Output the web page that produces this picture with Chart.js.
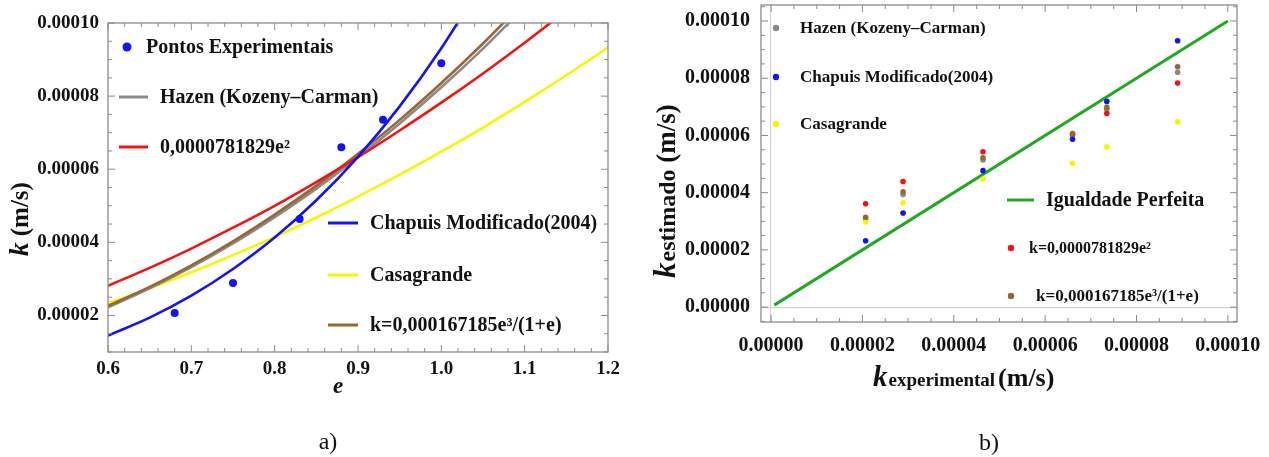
<!DOCTYPE html>
<html>
<head>
<meta charset="utf-8">
<script src="https://cdn.jsdelivr.net/npm/chart.js@4.4.1/dist/chart.umd.min.js"></script>
<style>
  html, body { margin: 0; padding: 0; background: #fff; }
  #wrap { position: relative; width: 1269px; height: 457px; }
  #boxA { position: absolute; left: 0; top: 0; width: 635px; height: 457px; }
  #boxB { position: absolute; left: 635px; top: 0; width: 634px; height: 457px; }
</style>
</head>
<body>
<div id="wrap">
  <div id="boxA"><canvas id="chartA" width="635" height="457"></canvas></div>
  <div id="boxB"><canvas id="chartB" width="634" height="457"></canvas></div>
</div>
<script>
// ---- data: panel a) k versus e ----
const eGrid = [0.60, 0.65, 0.70, 0.75, 0.80, 0.85, 0.90, 0.95, 1.00, 1.05, 1.10, 1.15, 1.20];
const kChapuis    = [1.45e-5, 1.94e-5, 2.54e-5, 3.27e-5, 4.13e-5, 5.15e-5, 6.34e-5, 7.72e-5, 9.31e-5, 1.112e-4];
const kQuadratic  = [2.81e-5, 3.30e-5, 3.83e-5, 4.40e-5, 5.00e-5, 5.65e-5, 6.33e-5, 7.06e-5, 7.82e-5, 8.62e-5, 9.46e-5, 1.034e-4];
const kCubic      = [2.26e-5, 2.78e-5, 3.37e-5, 4.03e-5, 4.76e-5, 5.55e-5, 6.42e-5, 7.35e-5, 8.36e-5, 9.44e-5, 1.060e-4];
const kHazen      = [2.22e-5, 2.74e-5, 3.32e-5, 3.97e-5, 4.69e-5, 5.47e-5, 6.33e-5, 7.25e-5, 8.24e-5, 9.30e-5, 1.044e-4];
const kCasagrande = [2.33e-5, 2.74e-5, 3.18e-5, 3.65e-5, 4.15e-5, 4.68e-5, 5.25e-5, 5.85e-5, 6.48e-5, 7.14e-5, 7.84e-5, 8.57e-5, 9.33e-5];

const eExp = [0.68, 0.75, 0.83, 0.88, 0.93, 1.00];
const kExp = [2.07e-5, 2.89e-5, 4.64e-5, 6.60e-5, 7.35e-5, 8.90e-5];

const eTicks = [0.6, 0.7, 0.8, 0.9, 1.0, 1.1, 1.2];
const kTicksA = [2e-5, 4e-5, 6e-5, 8e-5, 1e-4];

// ---- data: panel b) estimated versus experimental k ----
const estHazen      = [3.06e-5, 3.94e-5, 5.14e-5, 6.01e-5, 6.90e-5, 8.21e-5];
const estChapuis    = [2.32e-5, 3.29e-5, 4.77e-5, 5.87e-5, 7.19e-5, 9.31e-5];
const estCasagrande = [2.98e-5, 3.65e-5, 4.48e-5, 5.03e-5, 5.60e-5, 6.48e-5];
const estQuadratic  = [3.61e-5, 4.39e-5, 5.43e-5, 6.05e-5, 6.77e-5, 7.83e-5];
const estCubic      = [3.14e-5, 4.03e-5, 5.22e-5, 6.07e-5, 6.98e-5, 8.40e-5];
const identityX = [0.7e-6, 1e-4];
const identityY = [0.7e-6, 1e-4];

const kTicksB = [0, 2e-5, 4e-5, 6e-5, 8e-5, 1e-4];

// colours
const BLUE = '#1414f0', RED = '#f01414', YELLOW = '#f6f600', GRAY = '#8a8a8a', BROWN = '#9a6633', GREEN = '#22a822';
const SERIF = "'Liberation Serif', 'Times New Roman', serif";

Chart.defaults.font.family = SERIF;
Chart.defaults.color = '#111';

const toPts = (xs, ys) => ys.map((y, i) => ({ x: xs[i], y: y }));

function curve(label, ys, color) {
  return {
    label: label, data: toPts(eGrid, ys), showLine: true, borderColor: color,
    borderWidth: 2.6, pointRadius: 0, cubicInterpolationMode: 'monotone', fill: false
  };
}
function dots(label, xs, ys, color, r) {
  return {
    label: label, data: toPts(xs, ys), showLine: false, pointRadius: r,
    pointBackgroundColor: color, pointBorderWidth: 0, pointHoverRadius: r
  };
}

// draws text made of several runs with different fonts
function drawRuns(ctx, runs, x, y) {
  let cx = x;
  runs.forEach(r => {
    ctx.font = r.font;
    ctx.fillText(r.text, cx, y + (r.dy || 0));
    cx += ctx.measureText(r.text).width + (r.gap || 0);
  });
}

// frame with inside major/minor ticks, mathematica style
const frameTicks = {
  id: 'frameTicks',
  afterDraw(chart, args, opts) {
    const { ctx, chartArea: a, scales: { x, y } } = chart;
    ctx.save();
    ctx.strokeStyle = '#8c8c8c';
    ctx.lineWidth = 1.3;
    ctx.strokeRect(a.left, a.top, a.right - a.left, a.bottom - a.top);
    ctx.lineWidth = 1;
    const mark = (scale, step, horiz) => {
      const majors = scale.ticks.map(t => t.value);
      const n0 = Math.ceil(scale.min / step - 1e-6), n1 = Math.floor(scale.max / step + 1e-6);
      for (let n = n0; n <= n1; n++) {
        const v = n * step;
        const len = majors.some(m => Math.abs(m - v) < step * 1e-3) ? 7 : 4;
        const p = scale.getPixelForValue(v);
        ctx.beginPath();
        if (horiz) {
          ctx.moveTo(p, a.bottom); ctx.lineTo(p, a.bottom - len);
          ctx.moveTo(p, a.top); ctx.lineTo(p, a.top + len);
        } else {
          ctx.moveTo(a.left, p); ctx.lineTo(a.left + len, p);
          ctx.moveTo(a.right, p); ctx.lineTo(a.right - len, p);
        }
        ctx.stroke();
      }
    };
    mark(x, opts.xStep, true);
    mark(y, opts.yStep, false);
    ctx.restore();
  }
};

// legend entries and titles placed by hand
const decorations = {
  id: 'decorations',
  afterDraw(chart, args, opts) {
    const ctx = chart.ctx;
    ctx.save();
    ctx.fillStyle = '#111';
    ctx.textBaseline = 'middle';
    ctx.textAlign = 'left';
    (opts.items || []).forEach(it => {
      if (it.kind === 'dot') {
        ctx.beginPath();
        ctx.fillStyle = it.color;
        ctx.arc(it.x, it.y, it.r, 0, Math.PI * 2);
        ctx.fill();
      } else {
        ctx.beginPath();
        ctx.strokeStyle = it.color;
        ctx.lineWidth = 3;
        ctx.moveTo(it.x, it.y); ctx.lineTo(it.x2, it.y);
        ctx.stroke();
      }
      ctx.fillStyle = '#111';
      ctx.font = it.font;
      ctx.fillText(it.text, it.tx, it.y + 1);
    });
    ctx.textBaseline = 'alphabetic';
    if (opts.titles) opts.titles(ctx);
    ctx.restore();
  }
};

function scaleOpts(min, max, ticks, digits, pad, fit, font) {
  return {
    type: 'linear', min: min, max: max,
    afterBuildTicks: s => { s.ticks = ticks.map(v => ({ value: v })); },
    afterFit: fit,
    ticks: { autoSkip: false, maxRotation: 0, padding: pad, color: '#111',
             font: { size: font, weight: 'bold' }, callback: v => Number(v).toFixed(digits) },
    grid: { display: false, drawTicks: false },
    border: { display: false }
  };
}

// ---------- panel a ----------
new Chart(document.getElementById('chartA'), {
  type: 'scatter',
  data: {
    datasets: [
      dots('Pontos Experimentais', eExp, kExp, BLUE, 4),
      curve('Chapuis Modificado(2004)', kChapuis, BLUE),
      curve('0,0000781829e²', kQuadratic, RED),
      curve('k=0,000167185e³/(1+e)', kCubic, BROWN),
      curve('Hazen (Kozeny–Carman)', kHazen, GRAY),
      curve('Casagrande', kCasagrande, YELLOW)
    ]
  },
  options: {
    responsive: false,
    animation: false,
    layout: { padding: { left: 0, right: 27, top: 23, bottom: 0 } },
    scales: {
      x: scaleOpts(0.6, 1.2, eTicks, 1, 6, s => { s.height = 105; s.paddingLeft = 0; s.paddingRight = 0; }, 19),
      y: scaleOpts(1e-5, 1e-4, kTicksA, 5, 9, s => { s.width = 108; s.paddingTop = 0; s.paddingBottom = 0; }, 19)
    },
    plugins: {
      legend: { display: false },
      tooltip: { enabled: false },
      frameTicks: { xStep: 0.02, yStep: 5e-6 },
      decorations: {
        items: [
          { kind: 'dot', color: BLUE, x: 127, y: 47, r: 4.5, text: 'Pontos Experimentais', tx: 146, font: 'bold 20px ' + SERIF },
          { kind: 'line', color: GRAY, x: 119, x2: 148, y: 97, text: 'Hazen (Kozeny–Carman)', tx: 160, font: 'bold 20px ' + SERIF },
          { kind: 'line', color: RED, x: 119, x2: 148, y: 147, text: '0,0000781829e²', tx: 160, font: 'bold 20px ' + SERIF },
          { kind: 'line', color: BLUE, x: 328, x2: 358, y: 223, text: 'Chapuis Modificado(2004)', tx: 370, font: 'bold 20px ' + SERIF },
          { kind: 'line', color: YELLOW, x: 328, x2: 358, y: 275, text: 'Casagrande', tx: 370, font: 'bold 20px ' + SERIF },
          { kind: 'line', color: BROWN, x: 328, x2: 358, y: 325, text: 'k=0,000167185e³/(1+e)', tx: 370, font: 'bold 20px ' + SERIF }
        ],
        titles: ctx => {
          ctx.save();
          ctx.translate(28, 256);
          ctx.rotate(-Math.PI / 2);
          drawRuns(ctx, [
            { text: 'k', font: 'italic bold 27px ' + SERIF },
            { text: ' (m/s)', font: 'bold 25px ' + SERIF }
          ], 0, 0);
          ctx.restore();
          ctx.textAlign = 'center';
          ctx.font = 'italic bold 23px ' + SERIF;
          ctx.fillText('e', 338, 393);
          ctx.font = '24px ' + SERIF;
          ctx.fillText('a)', 328, 449);
        }
      }
    }
  },
  plugins: [frameTicks, decorations]
});

// ---------- panel b ----------
new Chart(document.getElementById('chartB'), {
  type: 'scatter',
  data: {
    datasets: [
      dots('k=0,000167185e³/(1+e)', kExp, estCubic, BROWN, 2.8),
      dots('k=0,0000781829e²', kExp, estQuadratic, RED, 2.8),
      dots('Casagrande', kExp, estCasagrande, YELLOW, 2.8),
      dots('Chapuis Modificado(2004)', kExp, estChapuis, BLUE, 2.8),
      dots('Hazen (Kozeny–Carman)', kExp, estHazen, GRAY, 2.8),
      { label: 'Igualdade Perfeita', data: toPts(identityX, identityY), showLine: true,
        borderColor: GREEN, borderWidth: 3, pointRadius: 0 }
    ]
  },
  options: {
    responsive: false,
    animation: false,
    layout: { padding: { left: 0, right: 32, top: 5, bottom: 0 } },
    scales: {
      x: Object.assign(scaleOpts(-2.2e-6, 1.02e-4, kTicksB, 5, 12, s => { s.height = 135; s.paddingLeft = 0; s.paddingRight = 0; }, 20), {
        grid: { display: true, drawTicks: false, lineWidth: 1.2,
                color: c => (c.tick && c.tick.value === 0) ? '#d4d4d4' : 'rgba(0,0,0,0)' }
      }),
      y: Object.assign(scaleOpts(-5.2e-6, 1.056e-4, kTicksB, 5, 11, s => { s.width = 126; s.paddingTop = 0; s.paddingBottom = 0; }, 20), {
        grid: { display: true, drawTicks: false, lineWidth: 1.2,
                color: c => (c.tick && c.tick.value === 0) ? '#d4d4d4' : 'rgba(0,0,0,0)' }
      })
    },
    plugins: {
      legend: { display: false },
      tooltip: { enabled: false },
      frameTicks: { xStep: 5e-6, yStep: 5e-6 },
      decorations: {
        items: [
          { kind: 'dot', color: GRAY, x: 141, y: 28, r: 3.2, text: 'Hazen (Kozeny–Carman)', tx: 165, font: 'bold 17px ' + SERIF },
          { kind: 'dot', color: BLUE, x: 141, y: 77, r: 3.2, text: 'Chapuis Modificado(2004)', tx: 165, font: 'bold 17px ' + SERIF },
          { kind: 'dot', color: YELLOW, x: 141, y: 124, r: 3.2, text: 'Casagrande', tx: 165, font: 'bold 17px ' + SERIF },
          { kind: 'line', color: GREEN, x: 372, x2: 399, y: 200, text: 'Igualdade Perfeita', tx: 411, font: 'bold 20px ' + SERIF },
          { kind: 'dot', color: RED, x: 376, y: 248, r: 3.2, text: 'k=0,0000781829e²', tx: 394, font: 'bold 16px ' + SERIF },
          { kind: 'dot', color: BROWN, x: 376, y: 296, r: 3.2, text: 'k=0,000167185e³/(1+e)', tx: 401, font: 'bold 17px ' + SERIF }
        ],
        titles: ctx => {
          ctx.save();
          ctx.translate(40, 278);
          ctx.rotate(-Math.PI / 2);
          drawRuns(ctx, [
            { text: 'k', font: 'italic bold 31px ' + SERIF, gap: 1 },
            { text: 'estimado', font: 'bold 24px ' + SERIF },
            { text: ' (m/s)', font: 'bold 27px ' + SERIF }
          ], 0, 0);
          ctx.restore();
          drawRuns(ctx, [
            { text: 'k', font: 'italic bold 29px ' + SERIF, gap: 1 },
            { text: 'experimental', font: 'bold 19px ' + SERIF, gap: 3 },
            { text: '(m/s)', font: 'bold 26px ' + SERIF }
          ], 238, 386);
          ctx.textAlign = 'center';
          ctx.font = '24px ' + SERIF;
          ctx.fillText('b)', 354, 450);
        }
      }
    }
  },
  plugins: [frameTicks, decorations]
});
</script>
</body>
</html>
